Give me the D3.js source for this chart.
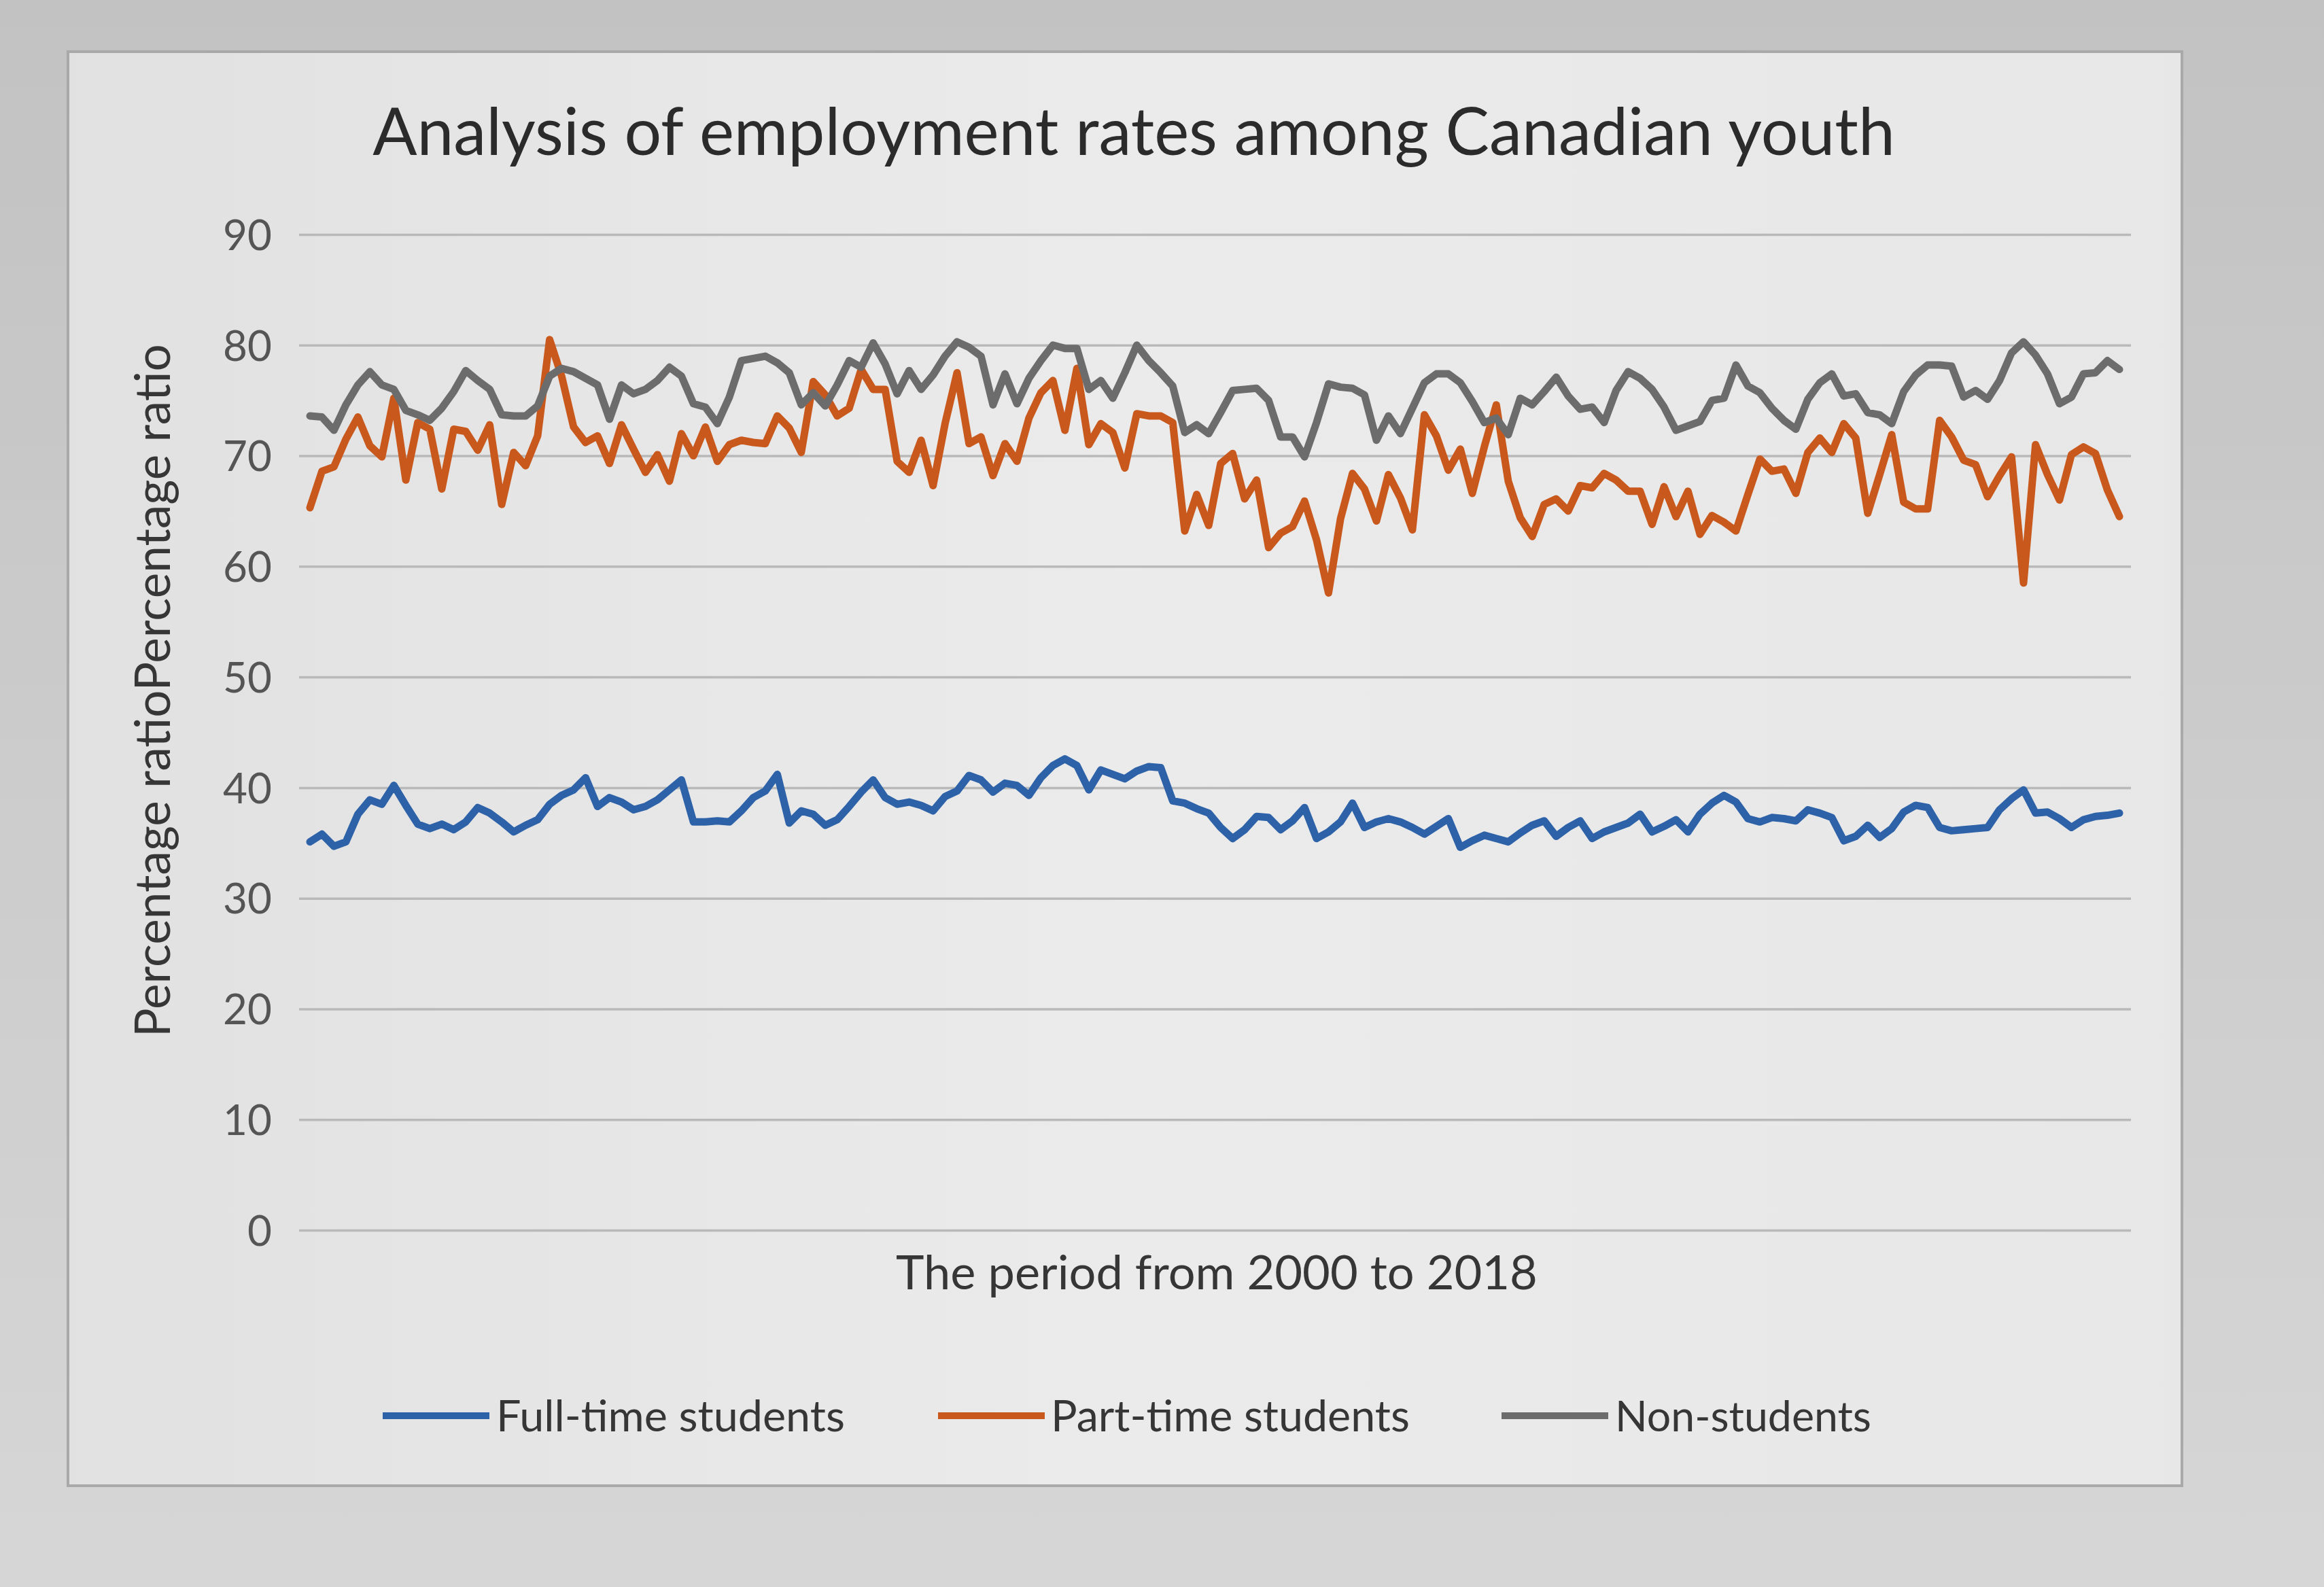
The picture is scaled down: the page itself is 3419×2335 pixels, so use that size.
<!DOCTYPE html>
<html>
<head>
<meta charset="utf-8">
<script src="https://cdn.jsdelivr.net/npm/d3@7"></script>
<style>
  html, body { margin: 0; padding: 0; background: #c9c9c9; }
  svg { display: block; }
</style>
</head>
<body>
<svg id="chart" width="3419" height="2335"></svg>
<script>
const title = "Analysis of employment rates among Canadian youth";
const yTitle = "Percentage ratioPercentage ratio";
const xTitle = "The period from 2000 to 2018";
const seriesNames = ["Full-time students", "Part-time students", "Non-students"];
const yTicks = [0, 10, 20, 30, 40, 50, 60, 70, 80, 90];

const fullTime = [
  35.1, 35.8, 34.7, 35.1, 37.6, 38.9, 38.5, 40.2, 38.4, 36.7,
  36.3, 36.7, 36.2, 36.9, 38.2, 37.7, 36.9, 36.0, 36.6, 37.1,
  38.5, 39.3, 39.8, 40.9, 38.3, 39.1, 38.7, 38.0, 38.3, 38.9,
  39.8, 40.7, 36.9, 36.9, 37.0, 36.9, 37.9, 39.1, 39.7, 41.2,
  36.8, 37.9, 37.6, 36.6, 37.1, 38.3, 39.6, 40.7, 39.1, 38.5,
  38.7, 38.4, 37.9, 39.2, 39.7, 41.1, 40.7, 39.6, 40.4, 40.2,
  39.3, 40.9, 42.0, 42.6, 42.0, 39.8, 41.6, 41.2, 40.8, 41.5,
  41.9, 41.8, 38.8, 38.6, 38.1, 37.7, 36.4, 35.4, 36.2, 37.4,
  37.3, 36.2, 37.0, 38.2, 35.4, 36.0, 36.9, 38.6, 36.4, 36.9,
  37.2, 36.9, 36.4, 35.8, 36.5, 37.2, 34.6, 35.2, 35.7, 35.4,
  35.1, 35.9, 36.6, 37.0, 35.6, 36.4, 37.0, 35.4, 36.0, 36.4,
  36.8, 37.6, 36.0, 36.5, 37.1, 36.0, 37.6, 38.6, 39.3, 38.7,
  37.2, 36.9, 37.3, 37.2, 37.0, 38.0, 37.7, 37.3, 35.2, 35.6,
  36.6, 35.5, 36.3, 37.8, 38.4, 38.2, 36.4, 36.1, 36.2, 36.3,
  36.4, 38.0, 39.0, 39.8, 37.7, 37.8, 37.2, 36.4, 37.1, 37.4,
  37.5, 37.7
];

const partTime = [
  65.3, 68.6, 69.0, 71.5, 73.5, 70.9, 69.9, 75.2, 67.8, 73.0,
  72.4, 67.0, 72.4, 72.2, 70.5, 72.8, 65.6, 70.3, 69.1, 71.8,
  80.5, 77.2, 72.6, 71.2, 71.8, 69.3, 72.8, 70.6, 68.5, 70.1,
  67.7, 72.0, 70.0, 72.6, 69.5, 71.0, 71.4, 71.2, 71.1, 73.6,
  72.5, 70.3, 76.7, 75.5, 73.6, 74.3, 77.8, 76.0, 76.0, 69.5,
  68.5, 71.4, 67.3, 72.9, 77.5, 71.1, 71.7, 68.2, 71.1, 69.5,
  73.4, 75.7, 76.8, 72.3, 77.9, 71.0, 72.9, 72.1, 68.9, 73.8,
  73.6, 73.6, 73.0, 63.2, 66.5, 63.7, 69.3, 70.2, 66.1, 67.8,
  61.7, 63.0, 63.6, 65.9, 62.4, 57.6, 64.3, 68.4, 67.0, 64.1,
  68.3, 66.2, 63.3, 73.7, 71.8, 68.7, 70.6, 66.6, 70.8, 74.6,
  67.7, 64.4, 62.7, 65.6, 66.1, 65.0, 67.3, 67.1, 68.4, 67.8,
  66.8, 66.8, 63.8, 67.2, 64.5, 66.8, 62.9, 64.6, 64.0, 63.2,
  66.5, 69.7, 68.6, 68.8, 66.6, 70.3, 71.6, 70.3, 72.9, 71.6,
  64.8, 68.3, 71.9, 65.8, 65.2, 65.2, 73.2, 71.7, 69.6, 69.2,
  66.3, 68.2, 69.9, 58.5, 71.0, 68.3, 66.0, 70.1, 70.8, 70.2,
  66.9, 64.5
];

const nonStudents = [
  73.6, 73.5, 72.3, 74.6, 76.4, 77.6, 76.4, 76.0, 74.1, 73.7,
  73.2, 74.3, 75.8, 77.7, 76.8, 76.0, 73.7, 73.6, 73.6, 74.5,
  77.2, 77.9, 77.6, 77.0, 76.4, 73.3, 76.4, 75.6, 76.0, 76.8,
  78.0, 77.2, 74.7, 74.4, 72.9, 75.3, 78.6, 78.8, 79.0, 78.4,
  77.5, 74.6, 75.7, 74.5, 76.4, 78.6, 78.0, 80.2, 78.3, 75.6,
  77.7, 76.0, 77.3, 79.0, 80.3, 79.8, 79.0, 74.6, 77.4, 74.7,
  77.0, 78.6, 80.0, 79.7, 79.7, 76.0, 76.8, 75.2, 77.5, 80.0,
  78.6, 77.5, 76.3, 72.1, 72.8, 72.0, 73.9, 75.9, 76.0, 76.1,
  75.0, 71.7, 71.7, 69.9, 73.0, 76.5, 76.2, 76.1, 75.5, 71.4,
  73.6, 72.0, 74.3, 76.6, 77.4, 77.4, 76.6, 74.9, 73.0, 73.4,
  71.9, 75.2, 74.6, 75.8, 77.1, 75.4, 74.2, 74.4, 73.0, 75.9,
  77.6, 77.0, 76.0, 74.4, 72.3, 72.7, 73.1, 75.0, 75.2, 78.2,
  76.3, 75.7, 74.3, 73.2, 72.4, 75.1, 76.6, 77.4, 75.4, 75.6,
  73.9, 73.7, 72.9, 75.8, 77.3, 78.2, 78.2, 78.1, 75.3, 75.9,
  75.1, 76.8, 79.3, 80.3, 79.1, 77.4, 74.7, 75.3, 77.4, 77.5,
  78.6, 77.8
];

const seriesValues = [fullTime, partTime, nonStudents];
const seriesColors = ["#2d62a8", "#c9581c", "#6c6c6c"];

// ---------- drawing ----------
const svg = d3.select("#chart");
const W = 3419, H = 2335;
const textColor = "#363636";
const font = "Lato, 'Open Sans', 'DejaVu Sans', sans-serif";

// photo background and chart frame
const defs = svg.append("defs");
const bg = defs.append("linearGradient").attr("id", "bgGrad")
  .attr("x1", 0).attr("y1", 0).attr("x2", 0).attr("y2", 1);
bg.append("stop").attr("offset", 0).attr("stop-color", "#c2c2c2");
bg.append("stop").attr("offset", 1).attr("stop-color", "#d6d6d6");
svg.append("rect").attr("width", W).attr("height", H).attr("fill", "url(#bgGrad)");

const fg = defs.append("linearGradient").attr("id", "fgGrad")
  .attr("x1", 0).attr("y1", 0).attr("x2", 1).attr("y2", 0);
fg.append("stop").attr("offset", 0).attr("stop-color", "#e1e1e1");
fg.append("stop").attr("offset", 0.5).attr("stop-color", "#ebebeb");
fg.append("stop").attr("offset", 1).attr("stop-color", "#e7e7e7");
svg.append("rect").attr("x", 100).attr("y", 76).attr("width", 3110).attr("height", 2110)
  .attr("fill", "url(#fgGrad)").attr("stroke", "#a9a9a9").attr("stroke-width", 4);

const n = fullTime.length;
const x = d3.scaleLinear().domain([0, n - 1]).range([456, 3118]);
const y = d3.scaleLinear().domain([0, 90]).range([1810, 345]);

// gridlines + tick labels through a d3 axis
const yAxis = d3.axisLeft(y).tickValues(yTicks).tickSize(-(3135 - 440)).tickPadding(40)
  .tickFormat(d3.format("d"));
const gAxis = svg.append("g").attr("transform", "translate(440,0)").call(yAxis);
gAxis.select(".domain").remove();
gAxis.selectAll(".tick line").attr("stroke", "#b9b9b9").attr("stroke-width", 3.5);
gAxis.selectAll(".tick text").attr("fill", "#555555").attr("font-family", font)
  .attr("font-size", 62).attr("dy", "0.36em");

// lines
const line = d3.line().x((d, i) => x(i)).y(d => y(d)).curve(d3.curveLinear);
seriesValues.forEach((vals, k) => {
  svg.append("path").datum(vals).attr("d", line).attr("fill", "none")
    .attr("stroke", seriesColors[k]).attr("stroke-width", 11)
    .attr("stroke-linejoin", "round").attr("stroke-linecap", "round");
});

// helper: fit a text to a target width
function fitText(sel, target) {
  const node = sel.node();
  const w = node.getComputedTextLength();
  const fs = parseFloat(sel.attr("font-size"));
  if (w > 0) sel.attr("font-size", fs * target / w);
  return sel;
}

// title
fitText(svg.append("text").attr("x", 1668).attr("y", 228).attr("text-anchor", "middle")
  .attr("font-family", font).attr("font-size", 90).attr("fill", "#2b2b2b").text(title), 2240);

// y axis title
fitText(svg.append("text").attr("transform", "translate(250,1016) rotate(-90)")
  .attr("text-anchor", "middle").attr("font-family", font).attr("font-size", 60)
  .attr("fill", textColor).text(yTitle), 1020);

// x axis title
fitText(svg.append("text").attr("x", 1790).attr("y", 1897).attr("text-anchor", "middle")
  .attr("font-family", font).attr("font-size", 66).attr("fill", textColor).text(xTitle), 944);

// legend
const legendItems = [
  { x0: 563, x1: 720, tx: 730, tw: 513 },
  { x0: 1380, x1: 1537, tx: 1546, tw: 528 },
  { x0: 2209, x1: 2366, tx: 2376, tw: 377 }
];
const legendY = 2083;
legendItems.forEach((it, k) => {
  svg.append("line").attr("x1", it.x0).attr("x2", it.x1).attr("y1", legendY).attr("y2", legendY)
    .attr("stroke", seriesColors[k]).attr("stroke-width", 10);
  fitText(svg.append("text").attr("x", it.tx).attr("y", legendY).attr("dy", "0.36em")
    .attr("font-family", font).attr("font-size", 60).attr("fill", textColor)
    .text(seriesNames[k]), it.tw);
});
</script>
</body>
</html>
